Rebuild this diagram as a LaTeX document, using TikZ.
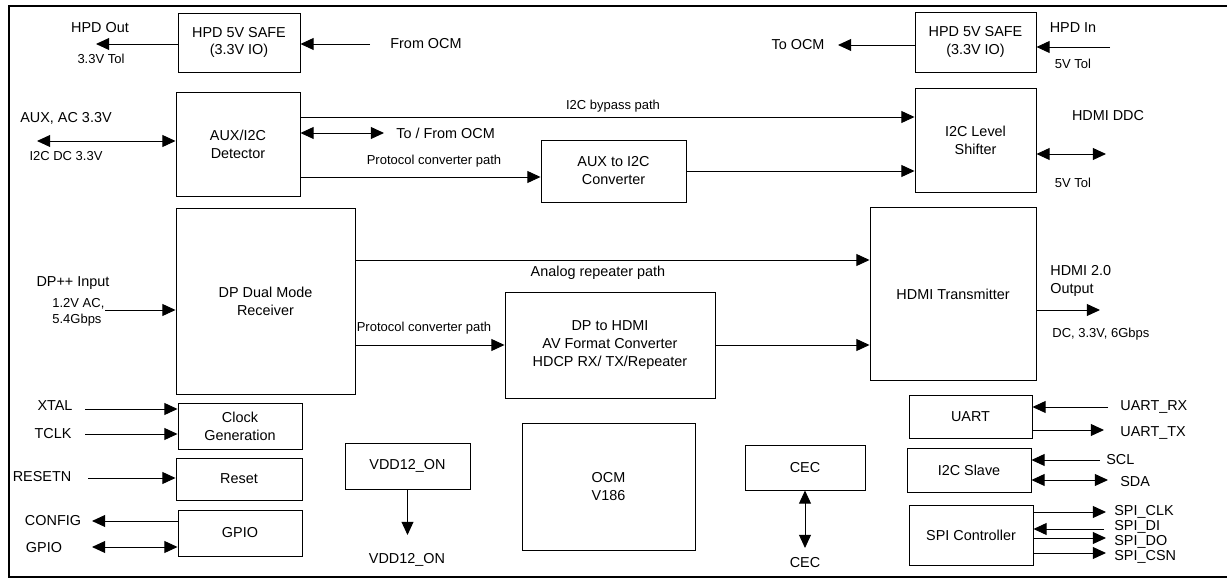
\documentclass[tikz,border=0pt]{standalone}
\usepackage{fontspec}
\setmainfont{Liberation Sans}
\usetikzlibrary{arrows.meta}

\begin{document}
\begin{tikzpicture}[x=0.02cm,y=-0.02cm,
	blk/.style={draw,line width=0.55pt,align=center,inner sep=0pt,font=\fontsize{8.2}{10.2}\selectfont},
	lbl/.style={inner sep=0pt,font=\fontsize{8.2}{10.2}\selectfont},
	sml/.style={inner sep=0pt,font=\fontsize{7.4}{9}\selectfont},
	arr/.style={line width=0.55pt,-{Triangle[length=7.5pt,width=6.8pt]}},
	darr/.style={line width=0.55pt,{Triangle[length=7.5pt,width=6.8pt]}-{Triangle[length=7.5pt,width=6.8pt]}}]
	\useasboundingbox (0,0) rectangle (1227,580);
	%FRAME
	\draw[line width=1.1pt] (1227,6)--(9,6)--(9,577)--(1227,577);

	%HPD ROW
	\node[blk,minimum width=2.44cm,minimum height=1.18cm] (safeL) at (239,42.5) {HPD 5V SAFE\\(3.3V IO)};
	\node[blk,minimum width=2.42cm,minimum height=1.2cm] (safeR) at (975.5,42) {HPD 5V SAFE\\(3.3V IO)};
	\coordinate (hpdo) at (96,44);			%free ends
	\coordinate (fromo) at (370,44);
	\coordinate (too) at (838,45);
	\coordinate (hpdi) at (1110,47);
	\node[lbl] (hpdoutlbl) at (100,28) {HPD Out};
	\node[sml] (tolA) at (101,59) {3.3V Tol};
	\node[lbl] (fromlbl) at (426,44) {From OCM};
	\node[lbl] (tolbl) at (798,45) {To OCM};
	\node[lbl] (hpdinlbl) at (1073,28) {HPD In};
	\node[sml] (tolB) at (1073,64) {5V Tol};
	\draw[arr] (safeL.west |- hpdo) -- (hpdo);
	\draw[arr] (fromo) -- (safeL.east |- fromo);
	\draw[arr] (safeR.west |- too) -- (too);
	\draw[arr] (hpdi) -- (safeR.east |- hpdi);

	%AUX ROW
	\node[blk,minimum width=2.48cm,minimum height=2.08cm] (det) at (238,144) {AUX/I2C\\Detector};
	\node[blk,minimum width=2.9cm,minimum height=1.24cm] (a2i) at (613.5,171) {AUX to I2C\\Converter};
	\node[blk,minimum width=2.42cm,minimum height=2.08cm] (shift) at (975.5,140) {I2C Level\\Shifter};
	\coordinate (auxo) at (37,141);
	\coordinate (tfo) at (384,133);
	\coordinate (ddco) at (1106,154);
	\node[lbl] (auxlbl) at (66,118) {AUX, AC 3.3V};
	\node[sml] (i2cdc) at (66,156) {I2C DC 3.3V};
	\node[sml] (bypass) at (613,106) {I2C bypass path};
	\node[lbl,anchor=west] (tfolbl) at (396,133) {To / From OCM};
	\node[sml] (pcpA) at (434,161) {Protocol converter path};
	\node[lbl] (ddclbl) at (1108,116) {HDMI DDC};
	\node[sml] (tolC) at (1073,183) {5V Tol};
	\draw[darr] (auxo) -- (det.west |- auxo);
	\draw[arr] (det.east |- 0,117) -- (shift.west |- 0,117);	%bypass
	\draw[darr] (det.east |- tfo) -- (tfo);
	\draw[arr] (det.east |- 0,177) -- (a2i.west |- 0,177);
	\draw[arr] (a2i.east) -- (shift.west |- a2i.east);
	\draw[darr] (shift.east |- ddco) -- (ddco);

	%VIDEO ROW
	\node[blk,minimum width=3.58cm,minimum height=3.74cm] (rx) at (265.5,301.5) {DP Dual Mode\\Receiver};
	\node[blk,minimum width=4.2cm,minimum height=2.12cm] (conv) at (610,345) {DP to HDMI\\AV Format Converter\\HDCP RX/ TX/Repeater};
	\node[blk,minimum width=3.32cm,minimum height=3.48cm] (tx) at (953,294) {HDMI Transmitter};
	\coordinate (dpi) at (105,310);
	\coordinate (hdo) at (1100,310);
	\node[lbl] (dplbl) at (73,283) {DP++ Input};
	\node[sml,anchor=west,align=left] (dpspec) at (52,312) {1.2V AC,\\5.4Gbps};
	\node[lbl] (analbl) at (598,273) {Analog repeater path};
	\node[sml] (pcpB) at (424,328) {Protocol converter path};
	\node[lbl,anchor=west,align=left] (hdlbl) at (1050,281) {HDMI 2.0\\Output};
	\node[sml,anchor=west] (hdspec) at (1052,334) {DC, 3.3V, 6Gbps};
	\draw[arr] (dpi) -- (rx.west |- dpi);
	\draw[arr] (rx.east |- 0,260) -- (tx.west |- 0,260);	%analog
	\draw[arr] (rx.east |- conv.west) -- (conv.west);
	\draw[arr] (conv.east) -- (tx.west |- conv.east);
	\draw[arr] (tx.east |- hdo) -- (hdo);

	%CLOCK, RESET, GPIO
	\node[blk,minimum width=2.48cm,minimum height=0.92cm] (clk) at (240,426) {Clock\\Generation};
	\node[blk,minimum width=2.52cm,minimum height=0.84cm] (rst) at (239,479) {Reset};
	\node[blk,minimum width=2.48cm,minimum height=0.92cm] (gpio) at (240,533) {GPIO};
	\coordinate (xtalo) at (85,409);
	\coordinate (tclko) at (85,434);
	\coordinate (rsto) at (88,478);
	\coordinate (cfgo) at (92,521);
	\coordinate (gpo) at (92,547);
	\node[lbl] (xtallbl) at (55,406) {XTAL};
	\node[lbl] (tclklbl) at (53,434) {TCLK};
	\node[lbl] (rstlbl) at (42,477) {RESETN};
	\node[lbl] (cfglbl) at (53,521) {CONFIG};
	\node[lbl] (gpiolbl) at (44,548) {GPIO};
	\draw[arr] (xtalo) -- (clk.west |- xtalo);
	\draw[arr] (tclko) -- (clk.west |- tclko);
	\draw[arr] (rsto) -- (rst.west |- rsto);
	\draw[arr] (gpio.west |- cfgo) -- (cfgo);
	\draw[darr] (gpo) -- (gpio.west |- gpo);

	%VDD, OCM, CEC
	\node[blk,minimum width=2.5cm,minimum height=0.92cm] (vdd) at (407.5,466) {VDD12\_ON};
	\node[blk,minimum width=3.46cm,minimum height=2.54cm] (ocm) at (608.5,486.5) {OCM\\V186};
	\node[blk,minimum width=2.4cm,minimum height=0.9cm] (cec) at (805,467.5) {CEC};
	\coordinate (vddo) at (407.5,535);
	\coordinate (ceco) at (805,548);
	\node[lbl] (vddlbl) at (407,560) {VDD12\_ON};
	\node[lbl] (ceclbl) at (805,563) {CEC};
	\draw[arr] (vdd.south) -- (vddo);
	\draw[darr] (cec.south) -- (ceco);

	%UART, I2C SLAVE, SPI
	\node[blk,minimum width=2.46cm,minimum height=0.86cm] (uart) at (970.5,416.5) {UART};
	\node[blk,minimum width=2.48cm,minimum height=0.88cm] (i2cs) at (969,470) {I2C Slave};
	\node[blk,minimum width=2.48cm,minimum height=1.2cm] (spi) at (971,535) {SPI Controller};
	\coordinate (urx) at (1108,407);
	\coordinate (utx) at (1104,430);
	\coordinate (sclo) at (1100,460);
	\coordinate (sdao) at (1108,480);
	\coordinate (sclk) at (1106,512);
	\coordinate (sdi) at (1104,529);
	\coordinate (sdo) at (1106,538);
	\coordinate (scsn) at (1106,553);
	\node[lbl,anchor=west] (urxlbl) at (1120,407) {UART\_RX};
	\node[lbl,anchor=west] (utxlbl) at (1120,433) {UART\_TX};
	\node[lbl,anchor=west] (scllbl) at (1106,460) {SCL};
	\node[lbl,anchor=west] (sdalbl) at (1120,482) {SDA};
	\node[lbl,anchor=west] (sclklbl) at (1114,512) {SPI\_CLK};
	\node[lbl,anchor=west] (sdilbl) at (1114,527) {SPI\_DI};
	\node[lbl,anchor=west] (sdolbl) at (1114,542) {SPI\_DO};
	\node[lbl,anchor=west] (scsnlbl) at (1114,557) {SPI\_CSN};
	\draw[arr] (urx) -- (uart.east |- urx);
	\draw[arr] (uart.east |- utx) -- (utx);
	\draw[arr] (sclo) -- (i2cs.east |- sclo);
	\draw[darr] (i2cs.east |- sdao) -- (sdao);
	\draw[arr] (spi.east |- sclk) -- (sclk);
	\draw[arr] (sdi) -- (spi.east |- sdi);
	\draw[arr] (spi.east |- sdo) -- (sdo);
	\draw[arr] (spi.east |- scsn) -- (scsn);
\end{tikzpicture}
\end{document}
